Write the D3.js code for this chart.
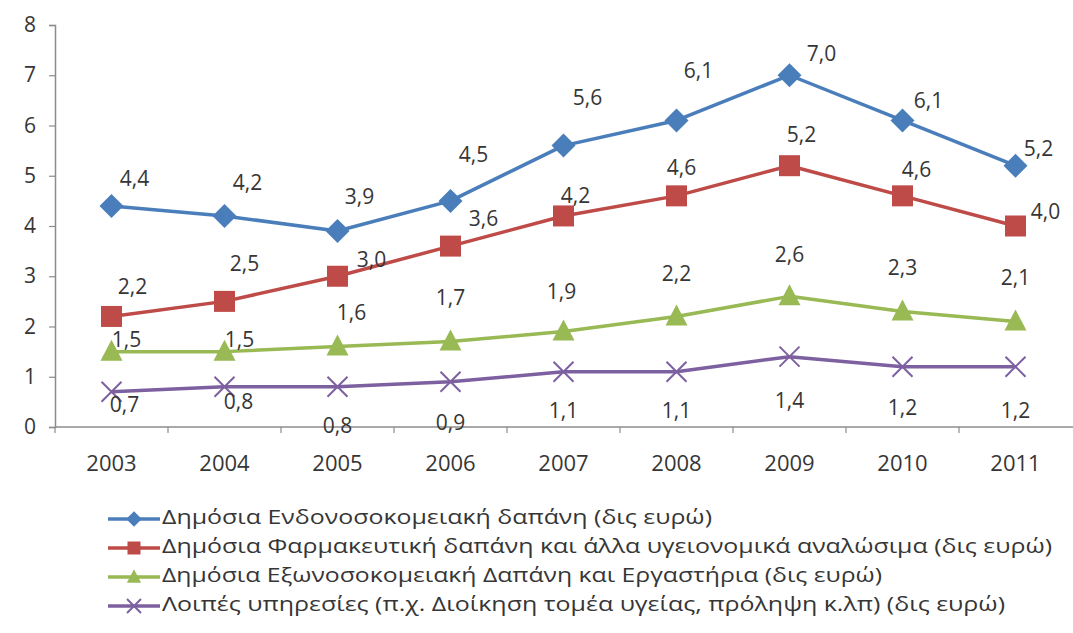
<!DOCTYPE html>
<html>
<head>
<meta charset="utf-8">
<script src="https://cdn.jsdelivr.net/npm/d3@7"></script>
<style>
  body { margin: 0; background: #fff; }
  svg { display: block; }
  text { font-family: "Open Sans", "DejaVu Sans", sans-serif; fill: #363636; }
</style>
</head>
<body>
<svg id="chart" width="1073" height="633"></svg>
<script>
// Years on the horizontal axis
const years = ["2003", "2004", "2005", "2006", "2007", "2008", "2009", "2010", "2011"];

// Public health expenditure series (billion euro)
const hospital = [4.4, 4.2, 3.9, 4.5, 5.6, 6.1, 7.0, 6.1, 5.2];
const pharma = [2.2, 2.5, 3.0, 3.6, 4.2, 4.6, 5.2, 4.6, 4.0];
const outpatient = [1.5, 1.5, 1.6, 1.7, 1.9, 2.2, 2.6, 2.3, 2.1];
const otherServices = [0.7, 0.8, 0.8, 0.9, 1.1, 1.1, 1.4, 1.2, 1.2];

const seriesNames = [
  "Δημόσια Ενδονοσοκομειακή δαπάνη (δις ευρώ)",
  "Δημόσια Φαρμακευτική δαπάνη και άλλα υγειονομικά αναλώσιμα (δις ευρώ)",
  "Δημόσια Εξωνοσοκομειακή Δαπάνη και Εργαστήρια (δις ευρώ)",
  "Λοιπές υπηρεσίες (π.χ. Διοίκηση τομέα υγείας, πρόληψη κ.λπ) (δις ευρώ)"
];

const yTicks = [0, 1, 2, 3, 4, 5, 6, 7, 8];

// Label nudges (pixels from the marker) for each series' value labels
const labelNudge = [
  [[23,-26],[23,-32],[22,-33],[23,-45],[24,-46],[22,-48],[32,-20],[26,-18],[23,-15]],
  [[21,-28],[20,-36],[34,-15],[33,-26],[12,-19],[5,-26],[12,-29],[14,-24],[30,-13]],
  [[15,-10],[15,-10],[14,-32],[0,-42],[-2,-38],[0,-41],[0,-40],[0,-42],[0,-42]],
  [[13,15],[14,17],[0,41],[0,43],[0,41],[0,41],[0,46],[0,43],[0,46]]
];

const series = [
  { name: seriesNames[0], values: hospital, color: "#4A7EBB", marker: "diamond" },
  { name: seriesNames[1], values: pharma, color: "#BE4B48", marker: "square" },
  { name: seriesNames[2], values: outpatient, color: "#98B954", marker: "triangle" },
  { name: seriesNames[3], values: otherServices, color: "#7D60A0", marker: "cross" }
];

const svg = d3.select("#chart");

const x = d3.scaleBand().domain(years).range([55, 1072]);
const y = d3.scaleLinear().domain([0, 8]).range([427, 25]);

const axisColor = "#8c8c8c";

// Y axis
const yAxis = svg.append("g")
  .attr("transform", "translate(55,0)")
  .call(d3.axisLeft(y).tickValues(yTicks).tickSize(6).tickPadding(13).tickFormat(d3.format("d")));
yAxis.select(".domain").attr("stroke", axisColor).attr("stroke-width", 1.5);
yAxis.selectAll(".tick line").attr("stroke", axisColor).attr("stroke-width", 1.2);
yAxis.selectAll(".tick text")
  .attr("font-size", 21).attr("fill", "#363636")
  .style("font-family", "'Open Sans', sans-serif");

// X axis with tick marks between categories
const xAxis = svg.append("g").attr("transform", `translate(0,${y(0)})`);
xAxis.append("line")
  .attr("x1", 55).attr("x2", 1073).attr("y1", 0).attr("y2", 0)
  .attr("stroke", axisColor).attr("stroke-width", 1.5);
xAxis.selectAll("line.sep")
  .data(years)
  .join("line")
  .attr("class", "sep")
  .attr("x1", d => x(d)).attr("x2", d => x(d))
  .attr("y1", 0).attr("y2", 6)
  .attr("stroke", axisColor).attr("stroke-width", 1.2);
xAxis.selectAll("text")
  .data(years)
  .join("text")
  .attr("x", d => x(d) + x.bandwidth() / 2)
  .attr("y", 38)
  .attr("text-anchor", "middle")
  .attr("dominant-baseline", "middle")
  .attr("font-size", 22)
  .text(d => d);

// Marker drawing
function drawMarker(g, type, color, size) {
  const s = size;
  if (type === "diamond") {
    g.append("path").attr("d", `M0,${-s*0.6}L${s*0.6},0L0,${s*0.6}L${-s*0.6},0Z`).attr("fill", color);
  } else if (type === "square") {
    g.append("rect").attr("x", -s/2).attr("y", -s/2).attr("width", s).attr("height", s).attr("fill", color);
  } else if (type === "triangle") {
    g.append("path").attr("d", `M0,${-s*0.6}L${s*0.55},${s*0.45}L${-s*0.55},${s*0.45}Z`).attr("fill", color);
  } else if (type === "cross") {
    const h = s * 0.5;
    g.append("path").attr("d", `M${-h},${-h}L${h},${h}M${-h},${h}L${h},${-h}`)
      .attr("stroke", color).attr("stroke-width", 2).attr("fill", "none");
  }
}

const markerSize = { diamond: 20, square: 21, triangle: 20, cross: 20 };
const line = d3.line().x((d, i) => x(years[i]) + x.bandwidth() / 2).y(d => y(d));

const fmt = v => d3.format(".1f")(v).replace(".", ",");

series.forEach((s, si) => {
  const g = svg.append("g");
  g.append("path")
    .datum(s.values)
    .attr("d", line)
    .attr("fill", "none")
    .attr("stroke", s.color)
    .attr("stroke-width", 3.5)
    .attr("stroke-linejoin", "round");
  s.values.forEach((v, i) => {
    const cx = x(years[i]) + x.bandwidth() / 2;
    const cy = y(v);
    const m = g.append("g").attr("transform", `translate(${cx},${cy})`);
    drawMarker(m, s.marker, s.color, markerSize[s.marker]);
  });
});

// Value labels on top of all lines
series.forEach((s, si) => {
  svg.append("g").selectAll("text")
    .data(s.values)
    .join("text")
    .attr("x", (d, i) => x(years[i]) + x.bandwidth() / 2 + labelNudge[si][i][0])
    .attr("y", (d, i) => y(d) + labelNudge[si][i][1])
    .attr("text-anchor", "middle")
    .attr("dominant-baseline", "middle")
    .attr("font-size", 21)
    .text(d => fmt(d));
});

// Legend
const legendWidths = [550, 890, 720, 843];
const legend = svg.append("g");
series.forEach((s, i) => {
  const ly = 519 + i * 29;
  const g = legend.append("g");
  g.append("line")
    .attr("x1", 108).attr("x2", 160).attr("y1", ly).attr("y2", ly)
    .attr("stroke", s.color).attr("stroke-width", 3.5);
  const m = g.append("g").attr("transform", `translate(134,${ly})`);
  drawMarker(m, s.marker, s.color, s.marker === "cross" ? 14 : 13);
  g.append("text")
    .attr("x", 162).attr("y", ly)
    .attr("dominant-baseline", "middle")
    .attr("font-size", 20)
    .attr("textLength", legendWidths[i])
    .attr("lengthAdjust", "spacingAndGlyphs")
    .text(s.name);
});
</script>
</body>
</html>
